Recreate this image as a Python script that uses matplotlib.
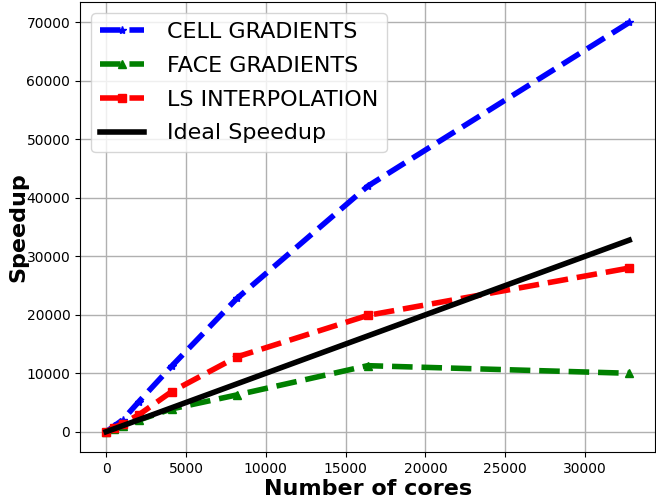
import matplotlib
matplotlib.use("Agg")
import matplotlib.pyplot as plt

# core counts and measured speedups
cores = [1, 512, 1024, 2048, 4096, 8192, 16384, 32768]
cell_grad = [1, 1000, 2000, 5150, 11200, 22800, 42000, 70000]
face_grad = [1, 500, 1000, 2000, 3900, 6300, 11300, 10000]
ls_interp = [1, 700, 1400, 2900, 6850, 12800, 19900, 28000]
ideal = cores

fig = plt.figure(figsize=(6.56, 5.03), dpi=100)
ax = fig.add_axes([0.122, 0.101, 0.877, 0.895])

ax.plot(cores, cell_grad, 'b--', marker='*', lw=4, ms=6, label='CELL GRADIENTS')
ax.plot(cores, face_grad, 'g--', marker='^', lw=4, ms=6, label='FACE GRADIENTS')
ax.plot(cores, ls_interp, 'r--', marker='s', lw=4, ms=6, label='LS INTERPOLATION')
ax.plot(cores, ideal, 'k-', lw=4, label='Ideal Speedup')

ax.set_xlabel('Number of cores', fontsize=16, fontweight='bold', labelpad=2)
ax.set_ylabel('Speedup', fontsize=16, fontweight='bold')
ax.yaxis.set_label_coords(-0.09, 0.5)
ax.grid(True, color='#b0b0b0', lw=1)
ax.legend(loc='upper left', fontsize=16, handletextpad=1.0, labelspacing=0.62)

fig.savefig('out.png', dpi=100)
